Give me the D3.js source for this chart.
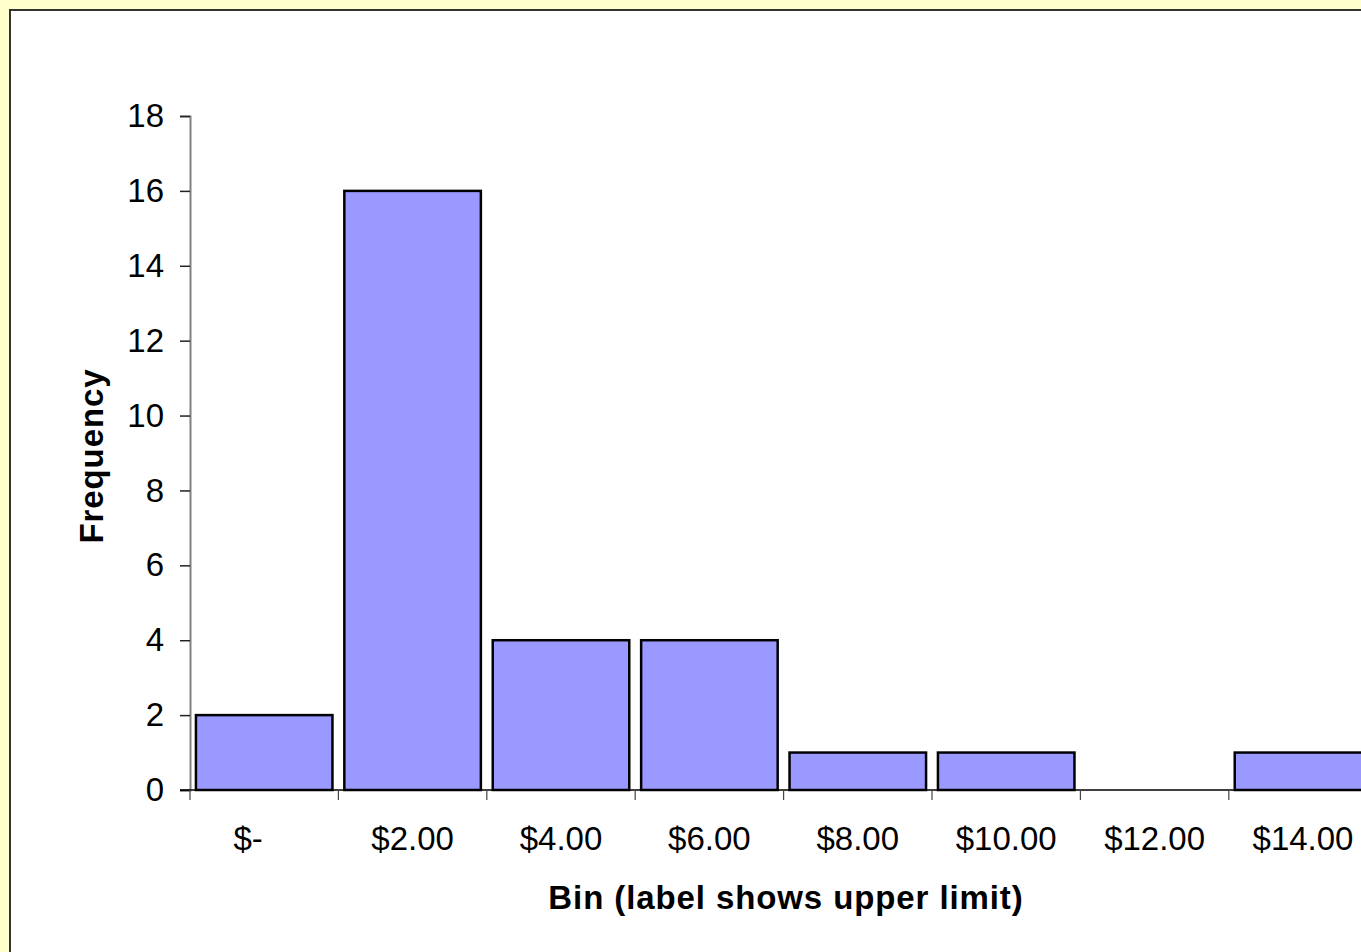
<!DOCTYPE html>
<html>
<head>
<meta charset="utf-8">
<script src="https://cdn.jsdelivr.net/npm/d3@7"></script>
<style>
  html, body { margin: 0; padding: 0; background: #FFFFCC; }
  svg { display: block; }
  text { font-family: Arial, "Liberation Sans", sans-serif; fill: #000; }
</style>
</head>
<body>
<svg id="chart" width="1361" height="952"></svg>
<script>
// bins (label shows upper limit) and counts
var bins = ["$-", "$2.00", "$4.00", "$6.00", "$8.00", "$10.00", "$12.00", "$14.00"];
var freq = [2, 16, 4, 4, 1, 1, 0, 1];
var yTicks = [0, 2, 4, 6, 8, 10, 12, 14, 16, 18];

var svg = d3.select("#chart"),
    W = +svg.attr("width"),
    H = +svg.attr("height");

// white chart area with dark border
svg.append("rect")
    .attr("x", 10).attr("y", 10)
    .attr("width", W + 20).attr("height", H + 20)
    .attr("fill", "#fff")
    .attr("stroke", "#333")
    .attr("stroke-width", 2);

var margin = {top: 116, left: 190, bottom: 162},
    plotW = 148.4 * bins.length,
    plotH = H - margin.top - margin.bottom;

var x = d3.scaleBand().domain(bins).range([0, plotW]).paddingInner(0.08).paddingOuter(0.04);
var xTick = d3.scaleBand().domain(bins).range([0, plotW]);
var y = d3.scaleLinear().domain([0, 18]).range([plotH, 0]);

var g = svg.append("g").attr("transform", "translate(" + margin.left + "," + margin.top + ")");

// bars
g.selectAll(".bar")
    .data(freq)
    .enter().append("rect")
        .attr("class", "bar")
        .attr("x", function(d, i) { return x(bins[i]); })
        .attr("width", x.bandwidth())
        .attr("y", function(d) { return y(d); })
        .attr("height", function(d) { return plotH - y(d); })
        .attr("fill", "#9999FF")
        .attr("stroke", "#000")
        .attr("stroke-width", 2.5)
        .style("display", function(d) { return d > 0 ? null : "none"; });

// y axis
var yAxis = g.append("g").attr("class", "axis axis--y")
    .call(d3.axisLeft(y).tickValues(yTicks).tickSize(10).tickPadding(16).tickFormat(d3.format("d")));
yAxis.select(".domain").attr("stroke", "#808080").attr("stroke-width", 2);
yAxis.selectAll(".tick line").attr("stroke", "#222").attr("stroke-width", 1.5);
yAxis.selectAll(".tick text").style("font-size", "33px");

// x axis: baseline, tick marks at band edges, labels centred in bands
g.append("line")
    .attr("x1", -10).attr("x2", plotW)
    .attr("y1", plotH).attr("y2", plotH)
    .attr("stroke", "#000").attr("stroke-width", 1.5);

g.selectAll(".xtick")
    .data(bins)
    .enter().append("line")
        .attr("class", "xtick")
        .attr("x1", function(d) { return xTick(d); })
        .attr("x2", function(d) { return xTick(d); })
        .attr("y1", plotH).attr("y2", plotH + 10)
        .attr("stroke", "#444").attr("stroke-width", 1.2);

g.selectAll(".xlabel")
    .data(bins)
    .enter().append("text")
        .attr("class", "xlabel")
        .attr("x", function(d) { return xTick(d) + xTick.bandwidth() / 2 - (d === "$-" ? 16 : 0); })
        .attr("y", plotH + 60)
        .attr("text-anchor", "middle")
        .style("font-size", "33px")
        .text(function(d) { return d; });

// axis titles
svg.append("text")
    .attr("x", 786).attr("y", 909)
    .attr("text-anchor", "middle")
    .style("font-size", "33px").style("font-weight", "bold").style("letter-spacing", "0.9px")
    .text("Bin (label shows upper limit)");

svg.append("text")
    .attr("transform", "translate(103,456) rotate(-90)")
    .attr("text-anchor", "middle")
    .style("font-size", "33px").style("font-weight", "bold").style("letter-spacing", "0.9px")
    .text("Frequency");
</script>
</body>
</html>
